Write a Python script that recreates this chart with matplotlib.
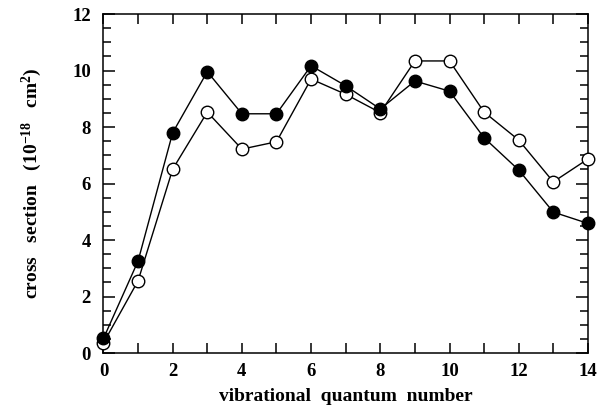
import matplotlib.pyplot as plt
from matplotlib.ticker import MultipleLocator

plt.rcParams['font.family'] = ['Liberation Serif', 'DejaVu Serif']
plt.rcParams['font.weight'] = 'bold'
plt.rcParams['mathtext.fontset'] = 'custom'
plt.rcParams['mathtext.rm'] = 'Liberation Serif:bold'
plt.rcParams['mathtext.it'] = 'Liberation Serif:bold'
plt.rcParams['mathtext.bf'] = 'Liberation Serif:bold'

# vibrational level v and cross sections (1e-18 cm^2)
v = list(range(15))
sigma_filled = [0.52, 3.26, 7.80, 9.96, 8.47, 8.47, 10.17, 9.46, 8.64,
                9.63, 9.27, 7.62, 6.48, 4.99, 4.59]
sigma_open = [0.36, 2.56, 6.51, 8.53, 7.22, 7.48, 9.70, 9.16, 8.51,
              10.34, 10.34, 8.53, 7.54, 6.06, 6.87]

fig = plt.figure(figsize=(6.03, 4.13), dpi=100)
ax = fig.add_axes([0.1716, 0.145, 0.8034, 0.821])

ax.plot(v, sigma_open, '-o', color='black', lw=1.0, ms=9,
        mfc='white', mec='black', mew=1.0, zorder=3, clip_on=False)
ax.plot(v, sigma_filled, '-o', color='black', lw=1.0, ms=9,
        mfc='black', mec='black', zorder=4, clip_on=False)

ax.set_xlim(0, 14)
ax.set_ylim(0, 12)
ax.xaxis.set_major_locator(MultipleLocator(2))
ax.xaxis.set_minor_locator(MultipleLocator(1))
ax.yaxis.set_major_locator(MultipleLocator(2))
ax.yaxis.set_minor_locator(MultipleLocator(0.5))
ax.tick_params(which='both', direction='in', top=True, right=True,
               labelsize=13.5, width=1.1)
ax.tick_params(axis='x', which='both', length=7, pad=7)
ax.tick_params(axis='y', which='major', length=8.5, pad=9)
ax.tick_params(axis='y', which='minor', length=5.5)
for lab in ax.get_xticklabels() + ax.get_yticklabels():
    lab.set_fontweight('bold')
for s in ax.spines.values():
    s.set_linewidth(1.1)

ax.set_xlabel('vibrational  quantum  number', fontsize=14,
              fontweight='bold', labelpad=6)
ax.set_ylabel(r'cross   section   (10$^{-18}$   cm$^{2}$)', fontsize=14,
              fontweight='bold', labelpad=20)

fig.savefig('out.png', dpi=100)
